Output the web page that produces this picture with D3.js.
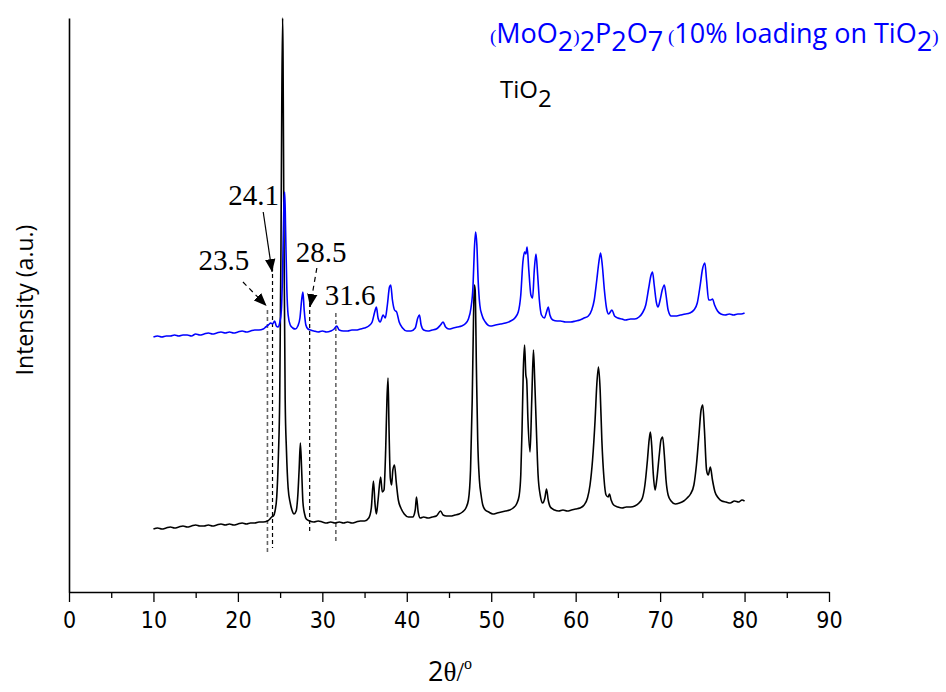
<!DOCTYPE html>
<html>
<head>
<meta charset="utf-8">
<script src="https://cdn.jsdelivr.net/npm/d3@7"></script>
<style>
body{margin:0;background:#fff;}
svg{display:block;}
.tick text{font-family:"Liberation Sans Narrow","DejaVu Sans Condensed",sans-serif;}
</style>
</head>
<body>
<svg id="chart"></svg>
<script>
// TiO2 pattern [2theta, intensity a.u.]
const tio2 = [
[10,63],[10.5,64],[11,63],[11.5,64],[12,65],[12.5,64],[13,65],[13.5,66],[14,65],[14.5,66],[15,67],[15.5,66],[16,66],[16.5,67],[17,66],[17.5,67],[18,68],[18.5,67],[19,68],[19.5,67],[20,68],[20.5,69],[21,68],[21.5,69],[22,69],[22.5,70],[23,70],[23.5,71],[23.8,73],[24,75],[24.2,76],[24.4,81],[24.6,95],[24.8,137],[24.95,192],[25.1,342],[25.2,492],[25.3,574],[25.35,532],[25.45,362],[25.6,192],[25.75,142],[25.95,104],[26.2,89],[26.4,82],[26.65,78],[26.9,81],[27.1,97],[27.25,122],[27.4,149],[27.55,122],[27.7,90],[27.9,78],[28.1,73],[28.5,71],[29,70],[29.5,71],[30,70],[30.5,69],[31,70],[31.5,69],[32,70],[32.5,69],[33,70],[33.5,69],[34,70],[34.5,71],[35,71],[35.5,74],[35.8,84],[36.05,111],[36.25,87],[36.4,78],[36.6,92],[36.9,115],[37.1,100],[37.3,102],[37.5,142],[37.65,192],[37.78,214],[37.9,162],[38.05,114],[38.2,107],[38.35,122],[38.55,127],[38.75,110],[39,92],[39.3,84],[39.7,78],[40.2,75],[40.7,75],[41,82],[41.15,95],[41.35,80],[41.6,74],[42,75],[42.5,74],[43,75],[43.5,76],[44,81],[44.3,77],[44.7,76],[45.2,76],[45.7,77],[46.2,78],[46.6,80],[47,84],[47.3,92],[47.55,122],[47.75,192],[47.9,272],[48,307],[48.1,302],[48.25,222],[48.4,152],[48.6,112],[48.8,97],[49,87],[49.3,82],[49.7,80],[50.2,78],[50.7,79],[51.2,80],[51.7,81],[52.2,82],[52.6,84],[53,88],[53.3,96],[53.5,117],[53.65,162],[53.8,222],[53.95,247],[54.1,217],[54.2,212],[54.35,172],[54.6,140],[54.8,192],[55,242],[55.15,212],[55.35,162],[55.55,117],[55.8,97],[56.1,89],[56.35,94],[56.55,103],[56.75,92],[57,85],[57.5,82],[58,81],[58.5,82],[59,81],[59.5,82],[60,83],[60.5,84],[61,87],[61.4,94],[61.7,107],[62,132],[62.3,172],[62.5,207],[62.7,225],[62.9,202],[63.1,152],[63.35,114],[63.6,97],[63.85,95],[64,98],[64.2,92],[64.5,87],[65,85],[65.5,84],[66,85],[66.5,85],[67,86],[67.5,89],[67.9,94],[68.2,107],[68.5,132],[68.7,152],[68.85,160],[69,147],[69.2,117],[69.4,102],[69.6,112],[69.9,137],[70.1,152],[70.3,155],[70.5,137],[70.7,112],[70.95,97],[71.3,91],[71.8,88],[72.3,89],[72.8,91],[73.2,94],[73.6,98],[74,107],[74.3,127],[74.6,157],[74.85,182],[75.05,187],[75.25,162],[75.5,122],[75.7,117],[75.95,125],[76.2,112],[76.5,100],[76.9,94],[77.3,91],[77.8,90],[78.3,89],[78.8,91],[79.3,90],[79.7,92],[80,91]
];
// (MoO2)2P2O7 10% on TiO2 pattern [2theta, intensity a.u.]
const mopo = [
[10,255],[10.5,256],[11,255],[11.5,256],[12,256],[12.5,257],[13,256],[13.5,257],[14,257],[14.5,256],[15,258],[15.5,257],[16,258],[16.5,259],[17,258],[17.5,259],[18,260],[18.5,259],[19,260],[19.5,259],[20,260],[20.5,261],[21,260],[21.5,261],[22,262],[22.5,262],[23,263],[23.3,265],[23.6,267],[23.9,269],[24.1,268],[24.35,271],[24.55,266],[24.75,265],[24.95,269],[25.15,282],[25.3,322],[25.45,387],[25.55,400],[25.65,362],[25.8,302],[25.95,277],[26.2,267],[26.5,264],[26.8,263],[27.1,266],[27.35,274],[27.55,292],[27.7,300],[27.85,282],[28.05,267],[28.3,263],[28.6,262],[29,261],[29.5,260],[30,261],[30.5,260],[31,261],[31.4,263],[31.7,266],[32,262],[32.5,261],[33,261],[33.5,262],[34,262],[34.5,263],[35,264],[35.5,266],[35.9,270],[36.2,280],[36.4,285],[36.6,274],[36.85,270],[37.2,277],[37.45,274],[37.7,287],[37.95,305],[38.1,307],[38.3,292],[38.55,282],[38.8,280],[39.1,270],[39.5,264],[40,261],[40.5,261],[41,264],[41.3,274],[41.5,277],[41.7,267],[42,262],[42.5,261],[43,262],[43.5,263],[44,267],[44.3,270],[44.6,265],[45,263],[45.5,264],[46,265],[46.5,266],[46.9,268],[47.3,273],[47.6,284],[47.85,307],[48,342],[48.15,360],[48.3,347],[48.45,312],[48.65,287],[48.9,277],[49.3,270],[49.9,266],[50.5,267],[51.1,268],[51.7,269],[52.3,271],[52.8,274],[53.2,280],[53.5,297],[53.75,330],[53.95,340],[54.1,338],[54.25,345],[54.45,322],[54.7,297],[54.9,294],[55.1,322],[55.3,338],[55.5,317],[55.7,292],[55.95,277],[56.3,274],[56.55,280],[56.75,285],[56.95,277],[57.3,272],[57.8,271],[58.2,271],[58.8,270],[59.4,270],[60,271],[60.5,272],[61,274],[61.5,276],[61.9,282],[62.2,292],[62.5,312],[62.75,330],[62.95,339],[63.15,327],[63.4,302],[63.65,284],[63.9,278],[64.3,282],[64.6,276],[65,274],[65.5,273],[65.9,272],[66.5,273],[67,273],[67.5,275],[67.9,279],[68.3,287],[68.65,304],[68.9,316],[69.1,320],[69.3,307],[69.55,290],[69.75,285],[70,292],[70.25,302],[70.5,307],[70.7,297],[70.95,282],[71.3,276],[71.8,276],[72.4,277],[73,278],[73.5,279],[74,282],[74.4,289],[74.75,307],[75,322],[75.3,329],[75.5,312],[75.75,292],[76,292],[76.2,293],[76.45,287],[76.8,281],[77.2,278],[77.7,277],[78.2,278],[78.7,277],[79.2,278],[79.6,278],[80,279]
];
const xTicks = [0,10,20,30,40,50,60,70,80,90];
const xMinor = [5,15,25,35,45,55,65,75,85];

// marked reflections
const annoPos   = [23.5, 24.1, 28.5, 31.6];
const annoLabel = ["23.5","24.1","28.5","31.6"];
const annoTop   = [282, 325, 289, 279];
const annoBot   = [39, 44, 60, 49];
const labelAt   = [[18.35,322],[21.85,387],[29.85,330],[33.3,287]];
const arrowFrom = [[20.6,310],[23.0,380],[29.35,324],null];
const arrowTo   = [[23.4,286],[24.05,320],[28.55,285],null];

const W = 946, H = 692;
const svg = d3.select("#chart").attr("width",W).attr("height",H);

const x = d3.scaleLinear().domain([0,90]).range([69,829]);
const y = d3.scaleLinear().domain([0,574]).range([592,18]);

// arrowhead
svg.append("defs").append("marker")
    .attr("id","head")
    .attr("viewBox","0 0 10 10")
    .attr("refX",10).attr("refY",5)
    .attr("markerWidth",13).attr("markerHeight",13)
    .attr("markerUnits","userSpaceOnUse")
    .attr("orient","auto")
  .append("path")
    .attr("d","M0,1 L10,5 L0,9 Z")
    .attr("fill","#000");

// axes
const xAxis = svg.append("g")
    .attr("transform",`translate(0,${y(0)})`)
    .call(d3.axisBottom(x).tickValues(xTicks).tickSize(10).tickSizeOuter(0).tickPadding(10))
xAxis.select(".domain").attr("stroke-width",1.6)
xAxis.selectAll(".tick line").attr("stroke-width",1.3)
xAxis.selectAll(".tick text").attr("font-size",23).attr("fill","#000")
svg.append("g")
    .attr("transform",`translate(0,${y(0)})`)
    .call(d3.axisBottom(x).tickValues(xMinor).tickSize(6).tickFormat(""))
    .call(g=>g.select(".domain").remove())
    .selectAll(".tick line").attr("stroke-width",1.3)

svg.append("g")
    .attr("transform",`translate(${x(0)},0)`)
    .call(d3.axisLeft(y).tickValues([]).tickSizeOuter(0))
    .select(".domain").attr("stroke-width",1.6)

// dashed marker lines
annoPos.forEach((p,i)=>{
    const grey = (i==0||i==3);
    svg.append("line")
        .attr("x1",x(p)).attr("x2",x(p))
        .attr("y1",y(annoTop[i])).attr("y2",y(annoBot[i]))
        .attr("stroke",grey?"#666":"#000")
        .attr("stroke-width",grey?1.6:1.2)
        .attr("stroke-dasharray","4,3");
})

// patterns
const line = d3.line().x(d=>x(d[0])).y(d=>y(d[1])).curve(d3.curveMonotoneX);
svg.append("path").datum(tio2)
    .attr("d",line).attr("fill","none")
    .attr("stroke","#000").attr("stroke-width",1.6);
svg.append("path").datum(mopo)
    .attr("d",line).attr("fill","none")
    .attr("stroke","#0000ff").attr("stroke-width",1.6);

// arrows + labels
annoPos.forEach((p,i)=>{
    if(arrowFrom[i]){
        svg.append("line")
            .attr("x1",x(arrowFrom[i][0])).attr("y1",y(arrowFrom[i][1]))
            .attr("x2",x(arrowTo[i][0])).attr("y2",y(arrowTo[i][1]))
            .attr("stroke","#000").attr("stroke-width",1.2)
            .attr("stroke-dasharray",i==1?null:"5,4")
            .attr("marker-end","url(#head)");
    }
    svg.append("text")
        .attr("x",x(labelAt[i][0])).attr("y",y(labelAt[i][1]))
        .attr("text-anchor","middle")
        .attr("font-family","'Liberation Serif','Times New Roman',serif")
        .attr("font-size",29)
        .text(annoLabel[i]);
})

// legend texts (s = subscript, p = small paren)
const sans = "'Open Sans','Liberation Sans',sans-serif";
const lg = svg.append("text")
    .attr("x",490).attr("y",43)
    .attr("font-family",sans).attr("font-size",27).attr("fill","#0000ff");
const parts = [["(","p"],["MoO",""],["2","s"],[")","p"],["2","s"],["P",""],["2","s"],["O",""],["7","s"],[" (","p"],["10% loading on TiO",""],["2","s"],[")","p"]];
let shift = 0;
parts.forEach(pt=>{
    const t = lg.append("tspan").text(pt[0]);
    const target = pt[1]=="s"?8:0;
    if(target!=shift){ t.attr("dy",target-shift); shift=target; }
    if(pt[1]=="p") t.attr("font-size",19).attr("font-family","'Liberation Serif',serif");
})
const tl = svg.append("text")
    .attr("x",500).attr("y",98)
    .attr("font-family",sans).attr("font-size",24).attr("fill","#000");
tl.append("tspan").text("TiO");
tl.append("tspan").attr("dy",9).text("2");

// axis titles
svg.append("text")
    .attr("transform",`translate(33,300) rotate(-90)`)
    .attr("text-anchor","middle")
    .attr("font-family",sans).attr("font-size",23)
    .text("Intensity (a.u.)");
const xt = svg.append("text")
    .attr("x",450).attr("y",681)
    .attr("text-anchor","middle")
    .attr("font-size",27);
xt.append("tspan").attr("font-family",sans).text("2");
xt.append("tspan").attr("font-family","'Liberation Serif',serif").text("θ/");
xt.append("tspan").attr("font-family","'Liberation Serif',serif").attr("font-size",16).attr("dy",-12).text("o");
</script>
</body>
</html>
